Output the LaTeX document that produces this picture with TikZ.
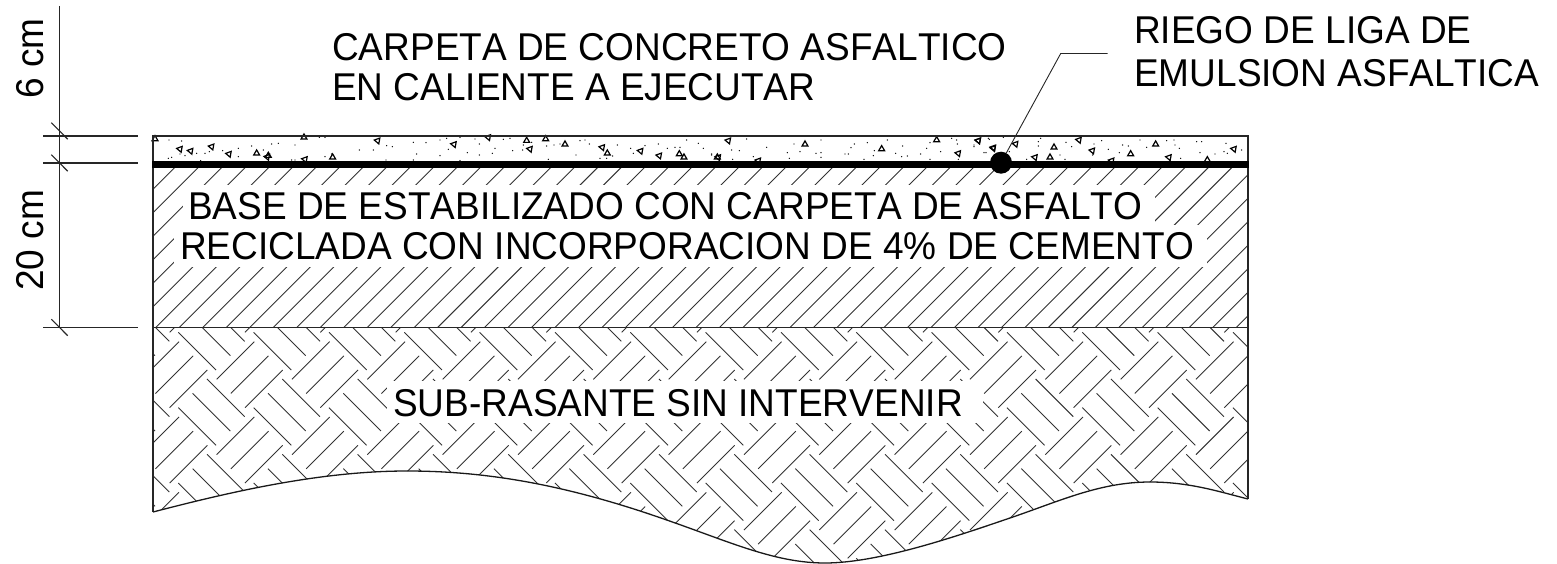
\documentclass[tikz,border=0pt]{standalone}
\usepackage{fontspec}
\setmainfont[Kerning=Off,FakeStretch=0.955]{Liberation Sans}
\newcommand{\lbltxt}{\fontsize{38.75}{40}\selectfont}
\newcommand{\grit}[3]{%
 \begin{scope}[shift={#1},x=0.3333pt,y=-0.3333pt]
  \foreach \a/\b in {#2} {\pgfmathsetmacro\rr{ifthenelse(mod(\a+\b,2)==0,90,170)}
    \draw[gritline] (\a,\b) +(\rr:3.4pt) -- +(\rr+120:3.4pt) -- +(\rr+240:3.4pt) -- cycle;}
  \foreach \a/\b in {#3} {\fill (\a,\b) circle (0.7pt);}
 \end{scope}}
\tikzset{
 thinline/.style={line width=1pt,black!85},
 hatchline/.style={line width=0.9pt,black!80},
 frameline/.style={line width=1.5pt,black!85},
 gritline/.style={line width=1.2pt,black},
 leaderline/.style={line width=0.9pt,black!85},
 lbl/.style={inner sep=0pt,anchor=base west,font=\lbltxt},
}
\begin{document}
\begin{tikzpicture}[x=1pt,y=-1pt]
\useasboundingbox (0,0) rectangle (1557,564);
% base hatch
\begin{scope}
 \clip (153,165) rectangle (1248,327.5);
 \foreach \i in {0,...,62} {
  \pgfmathsetmacro\c{342.3+23.49*(\i-1)}
  \draw[hatchline] (\c-165,165) -- (\c-327.5,327.5);
 }
\end{scope}
\fill[white] (183,185) rectangle (1155,225);
\fill[white] (174.3,225) rectangle (1207,266.7);
% herringbone hatch
\begin{scope}
 \clip (153,327.5) -- (153,512) .. controls (230,492) and (320,471) .. (407,471) .. controls (490,471) and (570,486) .. (666.7,520) .. controls (730,542) and (775,563) .. (825,563) .. controls (880,563) and (960,535) .. (1010,518) .. controls (1060,501) and (1100,482) .. (1150,482) .. controls (1190,482) and (1220,492) .. (1248,499) -- (1248,327.5) -- cycle;
 \foreach \i in {-1,...,14} {
  \foreach \j in {-1,...,3} {
   \pgfmathsetmacro\xo{178.33+75.33*\i}
   \pgfmathsetmacro\yo{332.33+75.33*\j}
   \foreach \k in {0,1,2} {
    \draw[hatchline] ({\xo+14.33*\k},{\yo-14.33*\k}) -- ++(37.67,37.67);
    \draw[hatchline] ({\xo+38.33+14.17*\k},{\yo+47+14.17*\k}) -- ++(37.67,-37.67);
   }
  }
 }
\end{scope}
\fill[white] (387,381) rectangle (983,423);
% concrete
\grit{(150,130)}{90/57,122/63,185/50,237/72,320/70,355/77,352/81,548/82,465/88,683/32,15/27,462/22}{57/30,95/33,90/72,105/77,140/70,165/70,178/65,55/85,65/82,218/62,265/55,265/80,305/48,340/60,365/42,385/40,435/45,435/90,525/22,508/22,525/80,545/72,628/60,670/60,710/47,727/50,790/37,828/38,800/72,708/90,790/90,152/92,425/90}
\grit{(430,130)}{72/43,175/22,290/32,347/27,300/57,405/43,517/52,532/70,632/63,688/77,748/72,762/82,862/82}{30/30,50/25,90/22,135/27,148/42,55/58,112/68,148/75,187/70,195/55,220/28,240/25,248/62,278/60,280/45,305/37,350/48,372/45,390/42,438/75,450/32,465/30,478/42,510/85,530/85,562/45,548/78,602/55,610/70,645/47,685/42,712/55,735/52,750/52,770/30,805/40,820/55,845/72,30/77,355/88,90/92}
\grit{(710,130)}{55/32,285/43,515/57,25/82,145/92,680/30,745/70,805/32,850/55}{110/27,65/60,88/62,170/52,130/80,5/75,68/88,232/68,252/42,270/65,333/30,318/70,333/68,333/82,238/85,405/72,415/72,433/42,423/53,472/38,493/62,490/77,532/30,578/48,557/70,575/80,592/78,632/72,650/55,660/38,692/65,725/25,740/30,742/42,828/68,838/28,792/50,462/88,660/88,745/88}
\grit{(970,130)}{25/32,70/53,137/42,195/82,240/82,252/52,327/30,367/62,482/72,557/43,597/82,792/57,425/92,712/90}{12/45,42/68,55/25,100/22,118/65,170/88,205/35,205/48,212/25,255/18,270/75,285/88,288/37,305/50,372/42,368/75,395/32,415/58,448/68,458/45,475/48,510/30,530/52,590/32,612/30,615/45,628/55,632/85,680/35,695/35,690/68,735/72,762/65,768/40,772/70,815/60}
% frame
\draw[frameline] (153,512) -- (153,136) -- (1248,136) -- (1248,499);
\draw[frameline] (153,327.5) -- (1248,327.5);
\draw[line width=1.3pt,black!90] (153,512) .. controls (230,492) and (320,471) .. (407,471) .. controls (490,471) and (570,486) .. (666.7,520) .. controls (730,542) and (775,563) .. (825,563) .. controls (880,563) and (960,535) .. (1010,518) .. controls (1060,501) and (1100,482) .. (1150,482) .. controls (1190,482) and (1220,492) .. (1248,499);
\draw[line width=7pt,black] (152,165) -- (1249,165);
% dimension
\coordinate (dimtop) at (59.5,6);
\coordinate (dimbot) at (59.5,327.5);
\draw[thinline,line width=1.2pt] (dimtop) -- (dimbot);
\draw[thinline,line width=1.1pt] (43,136) -- (137.7,136);
\draw[thinline,line width=1.7pt] (43,162.8) -- (137.7,162.8);
\draw[thinline,line width=1.1pt] (43,327.5) -- (137.7,327.5);
\draw[thinline,line width=1.1pt] (51.3,122.7) -- (67.7,139.2);
\draw[thinline,line width=1.1pt] (51.3,154.7) -- (67.7,171.2);
\draw[thinline,line width=1.1pt] (51.3,319.2) -- (67.7,335.7);
% labels
\node[lbl,rotate=90] (dimsix) at (43,99) {6 cm};
\node[lbl,rotate=90] (dimtwenty) at (43,291) {20 cm};
\node[lbl] (carpa) at (332,60.7) {CARPETA DE CONCRETO ASFALTICO};
\node[lbl] (carpb) at (332,100.7) {EN CALIENTE A EJECUTAR};
\node[lbl] (riegoa) at (1134,43.3) {RIEGO DE LIGA DE};
\node[lbl] (riegob) at (1134,86.7) {EMULSION ASFALTICA};
\node[lbl] (basea) at (188,219.3) {BASE DE ESTABILIZADO CON CARPETA DE ASFALTO};
\node[lbl] (baseb) at (180,259) {RECICLADA CON INCORPORACION DE 4\% DE CEMENTO};
\node[lbl] (subr) at (393,416) {SUB-RASANTE SIN INTERVENIR};
% leader
\node[circle,fill=black,inner sep=0pt,minimum size=22pt] (riego) at (1001,162.7) {};
\coordinate (elbow) at (1060.7,53.5);
\coordinate (leaderfree) at (1107.5,53.5);
\draw[leaderline] (riego) -- (elbow) -- (leaderfree);
\end{tikzpicture}
\end{document}
